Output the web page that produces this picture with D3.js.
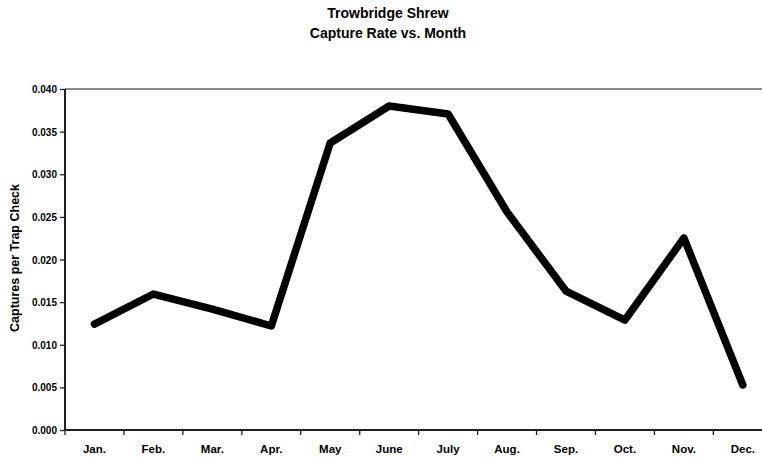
<!DOCTYPE html>
<html><head><meta charset="utf-8">
<script src="https://cdn.jsdelivr.net/npm/d3@7"></script>
<style>body{margin:0;background:#fff}svg{display:block}text{font-family:"Liberation Sans",Arial,sans-serif;font-weight:bold}</style>
</head><body><svg id="c" width="762" height="460"></svg>
<script>
const months = ["Jan.","Feb.","Mar.","Apr.","May","June","July","Aug.","Sep.","Oct.","Nov.","Dec."];
const captureRate = [0.01243,0.01595,0.01419,0.0122,0.03367,0.0380,0.03707,0.02557,0.0163,0.0129,0.02252,0.00528];
const yTicks = [0,0.005,0.010,0.015,0.020,0.025,0.030,0.035,0.040];
const titleLines = ["Trowbridge Shrew","Capture Rate vs. Month"];
const yTitle = "Captures per Trap Check";

const svg = d3.select("#c");
const L = 65, R = 772.3, T = 89, B = 430;
const x = d3.scaleBand().domain(months).range([L, R]).padding(0);
const y = d3.scaleLinear().domain([0, 0.04]).range([B, T]);

// top border of plot area
svg.append("line").attr("x1", L).attr("x2", 762).attr("y1", T).attr("y2", T)
  .attr("stroke", "#8a8a8a").attr("stroke-width", 2);

// y axis
const ya = svg.append("g").attr("transform", `translate(${L},0)`)
  .call(d3.axisLeft(y).tickValues(yTicks).tickFormat(d3.format(".3f")).tickSize(5).tickPadding(3));
ya.select(".domain").attr("stroke", "#222").attr("stroke-width", 2).attr("d", `M0,${T}V${B}`);
ya.selectAll(".tick line").attr("stroke", "#222").attr("stroke-width", 1.3);
ya.selectAll("text").attr("font-size", 10).attr("fill", "#000").attr("dy", "0.35em");

// x axis (labels at category centres, ticks at category boundaries)
const xa = svg.append("g").attr("transform", `translate(0,${B})`)
  .call(d3.axisBottom(x).tickSize(0).tickPadding(16));
xa.select(".domain").attr("stroke", "#222").attr("stroke-width", 2).attr("d", `M${L},0H762`);
xa.selectAll("text").attr("font-size", 11.5).attr("fill", "#000").attr("dy", "0.6em");
xa.selectAll("line.bound").data(months.map(m => x(m)).concat([R]))
  .enter().append("line").attr("class", "bound")
  .attr("x1", d => d).attr("x2", d => d).attr("y1", 0).attr("y2", 5)
  .attr("stroke", "#222").attr("stroke-width", 1.3);

// line
const line = d3.line().x((d, i) => x(months[i]) + x.bandwidth() / 2).y(d => y(d));
svg.append("path").datum(captureRate).attr("d", line)
  .attr("fill", "none").attr("stroke", "#000").attr("stroke-width", 7.5)
  .attr("stroke-linejoin", "round").attr("stroke-linecap", "round");

// titles
svg.append("text").attr("x", 388).attr("y", 18).attr("text-anchor", "middle")
  .attr("font-size", 14).text(titleLines[0]);
svg.append("text").attr("x", 388).attr("y", 38).attr("text-anchor", "middle")
  .attr("font-size", 14).text(titleLines[1]);
svg.append("text").attr("transform", "translate(19,258) rotate(-90)").attr("text-anchor", "middle")
  .attr("font-size", 12.5).text(yTitle);
</script></body></html>
